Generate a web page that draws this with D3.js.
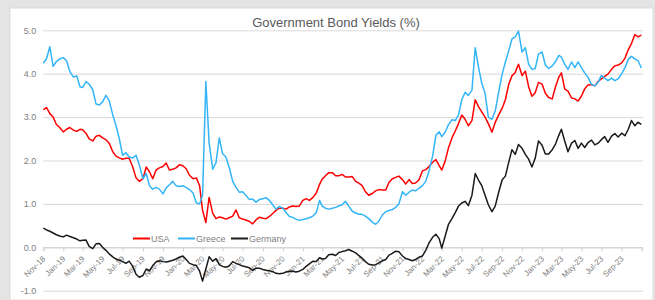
<!DOCTYPE html>
<html>

<head>
    <title>Government Bond Yields</title>
    <script src="https://d3js.org/d3.v7.min.js"></script>
    <style>
        body { margin: 0; background: #ffffff; }
        text { font-family: "Liberation Sans", Arial, sans-serif; }
    </style>
</head>

<body>
    <script type="text/javascript">

        // sample dates: 1st, 11th and 21st of each month, Nov-18 .. Oct-23, plus the last day
        var sampleDays = [1, 11, 21];
        var firstMonth = new Date(2018, 10, 1);
        var lastMonth = new Date(2023, 10, 1);
        var lastDate = new Date(2023, 9, 31);

        // 10-year government bond yields (%)
        var usaYields = [
            3.17, 3.22, 3.08, 3.00, 2.83, 2.76, 2.66, 2.72, 2.76, 2.70, 2.67, 2.72, 2.71, 2.63, 2.50, 2.45, 2.56, 2.58,
            2.52, 2.48, 2.40, 2.20, 2.10, 2.06, 2.03, 2.05, 2.05, 1.85, 1.60, 1.52, 1.58, 1.85, 1.74, 1.58, 1.78, 1.83,
            1.86, 1.94, 1.78, 1.80, 1.83, 1.90, 1.88, 1.81, 1.66, 1.58, 1.60, 1.42, 0.85, 0.57, 1.15, 0.78, 0.66, 0.70,
            0.68, 0.65, 0.68, 0.72, 0.86, 0.68, 0.65, 0.63, 0.60, 0.54, 0.63, 0.69, 0.67, 0.66, 0.71, 0.78, 0.85, 0.90,
            0.90, 0.88, 0.93, 0.95, 0.94, 0.95, 1.08, 1.12, 1.08, 1.15, 1.25, 1.45, 1.57, 1.65, 1.72, 1.72, 1.65, 1.65,
            1.68, 1.62, 1.62, 1.63, 1.52, 1.48, 1.42, 1.28, 1.20, 1.24, 1.30, 1.33, 1.32, 1.32, 1.50, 1.58, 1.61, 1.64,
            1.56, 1.46, 1.56, 1.47, 1.48, 1.55, 1.76, 1.79, 1.86, 1.96, 2.02, 1.88, 1.78, 1.98, 2.28, 2.52, 2.68, 2.85,
            3.05, 2.95, 2.80, 2.92, 3.40, 3.24, 3.12, 3.00, 2.85, 2.65, 2.88, 3.04, 3.20, 3.40, 3.75, 3.95, 4.03, 4.22,
            3.96, 4.06, 3.70, 3.48, 3.56, 3.80, 3.76, 3.55, 3.45, 3.42, 3.70, 3.92, 4.02, 3.65, 3.60, 3.44, 3.42, 3.37,
            3.48, 3.65, 3.74, 3.75, 3.72, 3.82, 3.88, 3.94, 3.99, 4.10, 4.18, 4.20, 4.25, 4.36, 4.55, 4.70, 4.90, 4.85,
            4.89
        ];

        var greeceYields = [
            4.24, 4.35, 4.62, 4.17, 4.28, 4.34, 4.37, 4.30, 4.05, 3.92, 3.95, 3.70, 3.68, 3.82, 3.76, 3.63, 3.30, 3.28,
            3.35, 3.50, 3.38, 3.05, 2.80, 2.50, 2.12, 2.18, 2.08, 2.06, 2.12, 1.90, 1.58, 1.70, 1.42, 1.34, 1.38, 1.34,
            1.23, 1.37, 1.44, 1.52, 1.42, 1.40, 1.42, 1.38, 1.33, 1.25, 1.02, 1.00, 1.20, 3.82, 2.40, 1.80, 1.95, 2.52,
            2.16, 2.08, 1.85, 1.52, 1.38, 1.27, 1.28, 1.20, 1.11, 1.11, 1.04, 1.10, 1.12, 1.14, 1.08, 0.98, 0.88, 0.94,
            0.90, 0.80, 0.71, 0.69, 0.65, 0.62, 0.64, 0.66, 0.68, 0.72, 0.80, 1.08, 0.95, 0.90, 0.88, 0.90, 0.92, 0.95,
            0.98, 1.06, 0.95, 0.83, 0.79, 0.76, 0.76, 0.72, 0.66, 0.58, 0.53, 0.60, 0.75, 0.82, 0.85, 0.87, 0.92, 1.00,
            1.28, 1.20, 1.27, 1.32, 1.30, 1.36, 1.42, 1.52, 1.76, 2.10, 2.58, 2.66, 2.55, 2.65, 2.82, 2.94, 2.92, 3.05,
            3.40, 3.57, 3.50, 3.62, 4.60, 4.15, 3.78, 3.55, 3.00, 2.95, 3.14, 3.55, 3.98, 4.27, 4.52, 4.80, 4.85, 4.98,
            4.50, 4.60, 4.22, 4.10, 4.12, 4.45, 4.50, 4.20, 4.12, 4.18, 4.28, 4.42, 4.38, 4.22, 4.10, 4.27, 4.14, 4.27,
            4.14, 4.02, 3.92, 3.75, 3.72, 3.80, 3.96, 3.90, 3.84, 3.90, 3.84, 3.88, 4.00, 4.14, 4.33, 4.40, 4.34, 4.30,
            4.13
        ];

        var germanyYields = [
            0.44, 0.40, 0.37, 0.33, 0.29, 0.26, 0.24, 0.28, 0.25, 0.22, 0.19, 0.15, 0.16, 0.17, 0.02, -0.03, 0.08, 0.09,
            0.00, -0.07, -0.15, -0.22, -0.27, -0.30, -0.33, -0.37, -0.32, -0.44, -0.62, -0.69, -0.65, -0.50, -0.54, -0.42, -0.34, -0.31,
            -0.33, -0.34, -0.32, -0.30, -0.27, -0.23, -0.20, -0.28, -0.37, -0.40, -0.42, -0.55, -0.78, -0.50, -0.22, -0.32, -0.26, -0.40,
            -0.44, -0.46, -0.43, -0.33, -0.37, -0.40, -0.43, -0.45, -0.47, -0.53, -0.48, -0.48, -0.51, -0.53, -0.54, -0.56, -0.60, -0.61,
            -0.60, -0.57, -0.55, -0.55, -0.57, -0.55, -0.51, -0.44, -0.38, -0.32, -0.33, -0.24, -0.27, -0.26, -0.17, -0.16, -0.19, -0.12,
            -0.10, -0.08, -0.05, -0.09, -0.13, -0.19, -0.25, -0.33, -0.39, -0.41, -0.40, -0.36, -0.31, -0.28, -0.18, -0.14, -0.09, -0.10,
            -0.20, -0.26, -0.28, -0.31, -0.28, -0.23, -0.20, -0.07, 0.10, 0.23, 0.30, 0.20, -0.02, 0.25, 0.52, 0.66, 0.80, 0.95,
            1.02, 1.06, 0.96, 1.20, 1.70, 1.55, 1.42, 1.20, 0.98, 0.82, 0.95, 1.25, 1.55, 1.64, 1.95, 2.25, 2.14, 2.37,
            2.28, 2.14, 2.03, 1.85, 2.05, 2.45, 2.35, 2.15, 2.15, 2.25, 2.38, 2.58, 2.72, 2.45, 2.20, 2.40, 2.46, 2.28,
            2.40, 2.30, 2.41, 2.47, 2.36, 2.40, 2.48, 2.55, 2.42, 2.56, 2.62, 2.54, 2.63, 2.57, 2.72, 2.92, 2.80, 2.88,
            2.83
        ];

        var seriesNames = ["USA", "Greece", "Germany"];
        var seriesColors = ["#ff0000", "#33b5f8", "#1a1a1a"];
        var yTickValues = [-1, 0, 1, 2, 3, 4, 5];
        var titleText = "Government Bond Yields (%)";

        // build the date list
        var dates = [];
        d3.timeMonth.range(firstMonth, lastMonth).forEach(function (m) {
            sampleDays.forEach(function (d) {
                dates.push(new Date(m.getFullYear(), m.getMonth(), d));
            });
        });
        dates.push(lastDate);

        var allSeries = [usaYields, greeceYields, germanyYields].map(function (vals, i) {
            return {
                name: seriesNames[i],
                color: seriesColors[i],
                values: vals.map(function (v, j) { return { date: dates[j], value: v }; })
            };
        });

        var W = 655, H = 300;
        var plot = { left: 43.3, right: 641.7, top: 30.3, bottom: 290.7 };

        var svg = d3.select("body")
            .append("svg")
            .attr("width", W)
            .attr("height", H);

        // grey frame around the white chart area
        svg.append("rect").attr("width", W).attr("height", H).attr("fill", "#e4e4e4");
        svg.append("rect")
            .attr("x", 10).attr("y", 8)
            .attr("width", W - 12).attr("height", H - 8)
            .attr("fill", "#ffffff")
            .attr("stroke", "#dadada");

        var xScale = d3.scaleTime()
            .domain([firstMonth, lastMonth])
            .range([plot.left, plot.right]);

        var yScale = d3.scaleLinear()
            .domain([-1, 5])
            .range([plot.bottom, plot.top]);

        // horizontal gridlines with labels
        var yAxis = d3.axisLeft(yScale)
            .tickValues(yTickValues)
            .tickSize(-(plot.right + 1.5 - plot.left))
            .tickPadding(7)
            .tickFormat(function (d) { return d.toFixed(1); });

        var gy = svg.append("g")
            .attr("transform", "translate(" + plot.left + ",0)")
            .call(yAxis);
        gy.select(".domain").remove();
        gy.selectAll("line").attr("stroke", "#d9d9d9").attr("stroke-width", 1);
        gy.selectAll("text")
            .attr("fill", "#808080")
            .style("font-size", "9px");

        // date axis on the 0.0 line
        var xTicks = d3.timeMonth.every(2).range(firstMonth, d3.timeDay.offset(lastMonth, 1));
        var xAxis = d3.axisBottom(xScale)
            .tickValues(xTicks)
            .tickSize(4)
            .tickFormat(function (d) {
                return d < lastMonth ? d3.timeFormat("%b-%y")(d) : "";
            });

        var gx = svg.append("g")
            .attr("transform", "translate(0," + yScale(0) + ")")
            .call(xAxis);
        gx.select(".domain").attr("stroke", "#d0d0d0");
        gx.selectAll("line").attr("stroke", "#d0d0d0");
        gx.selectAll("text")
            .attr("fill", "#808080")
            .style("font-size", "8px")
            .style("text-anchor", "end")
            .attr("dx", "0")
            .attr("dy", "0")
            .attr("y", 0)
            .attr("transform", "translate(2,12) rotate(-45)");

        // the three series
        var line = d3.line()
            .x(function (d) { return xScale(d.date); })
            .y(function (d) { return yScale(d.value); });

        svg.selectAll(".series")
            .data(allSeries)
            .enter()
            .append("path")
            .attr("class", "series")
            .attr("d", function (s) { return line(s.values); })
            .attr("stroke", function (s) { return s.color; })
            .attr("stroke-width", 1.5)
            .attr("stroke-linejoin", "round")
            .attr("fill", "none");

        // legend
        var legendX = [133, 178, 231];
        var legend = svg.selectAll(".legend")
            .data(allSeries)
            .enter()
            .append("g")
            .attr("class", "legend")
            .attr("transform", function (s, i) { return "translate(" + legendX[i] + ",238.5)"; });
        legend.append("line")
            .attr("x1", 0).attr("x2", 17)
            .attr("stroke", function (s) { return s.color; })
            .attr("stroke-width", 2);
        legend.append("text")
            .attr("x", 18)
            .attr("dy", "0.35em")
            .attr("fill", "#808080")
            .style("font-size", "9px")
            .text(function (s) { return s.name; });

        // chart title
        svg.append("text")
            .attr("x", 336)
            .attr("y", 27)
            .attr("text-anchor", "middle")
            .attr("fill", "#595959")
            .style("font-size", "13px")
            .text(titleText);

    </script>
</body>

</html>
